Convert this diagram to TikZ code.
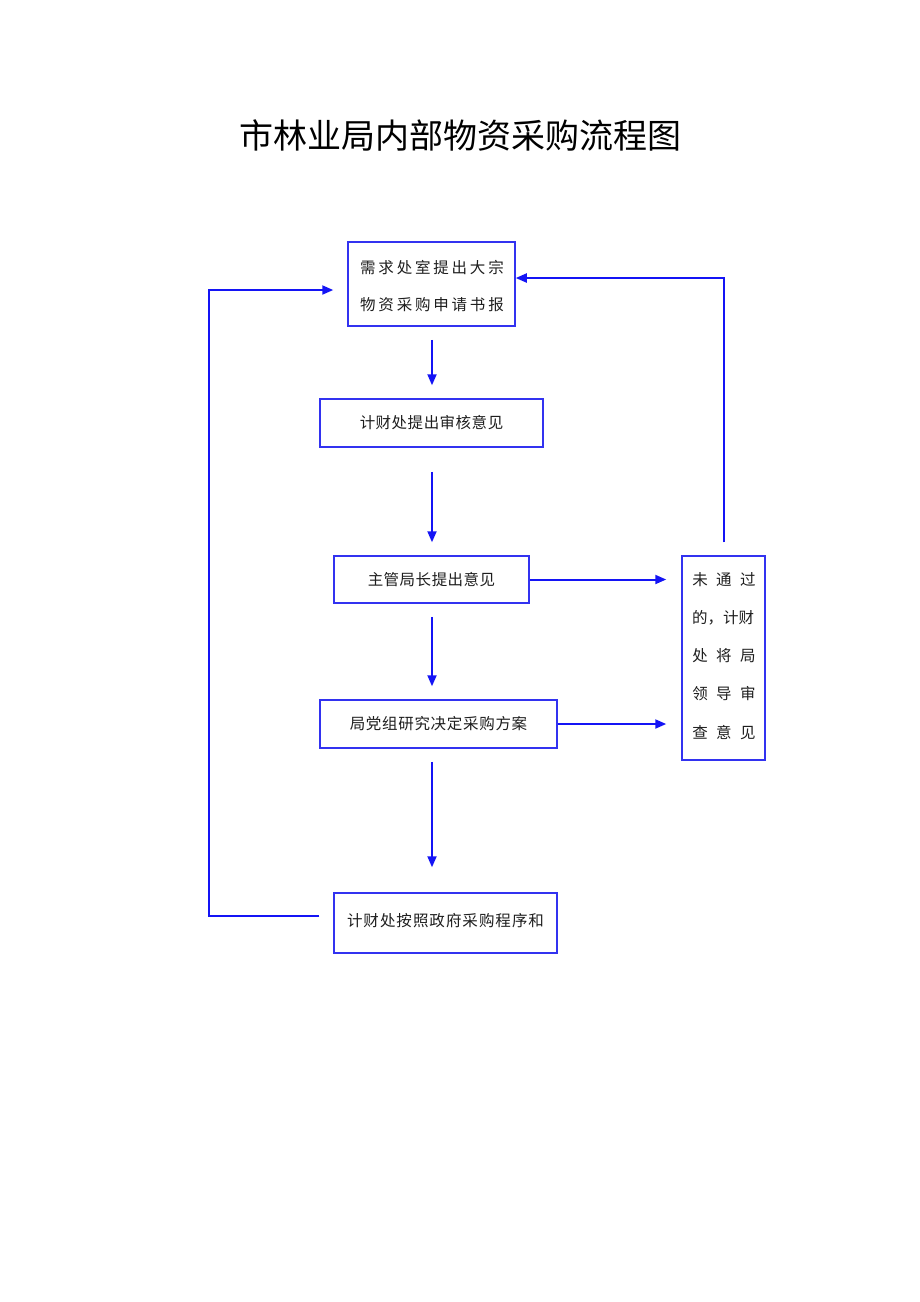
\documentclass[tikz,border=0pt]{standalone}
\usepackage{fontspec}
\setmainfont{Noto Sans CJK SC}
\newfontfamily\cjk{Noto Sans CJK SC}
\usetikzlibrary{arrows.meta}
\ExplSyntaxOn
\NewDocumentCommand\spc{mm}{\tl_map_inline:nn{#2}{\makebox[#1][c]{##1}}}
\ExplSyntaxOff
\definecolor{lineblue}{RGB}{20,20,245}
\definecolor{boxblue}{RGB}{50,50,240}
\definecolor{txt}{RGB}{30,30,30}
\begin{document}
\begin{tikzpicture}[x=1pt,y=-1pt,
  box/.style={draw=boxblue,line width=1.5pt,inner sep=0pt,text=txt,font=\cjk\fontsize{15.5}{18}\selectfont},
  lbl/.style={text=txt,font=\cjk\fontsize{15.5}{18}\selectfont,inner sep=0pt},
  conn/.style={draw=lineblue,line width=2pt,-{Triangle[length=11pt,width=9pt]}}]
\useasboundingbox[fill=white] (0,0) rectangle (920,1302);
\node[font=\cjk\fontsize{34}{38}\selectfont] (title) at (460,135) {市林业局内部物资采购流程图};
\node[box,minimum width=167pt,minimum height=84pt] (b1) at (431.5,284) {};
\node[lbl] (b1a) at (432,268) {\spc{18.3pt}{需求处室提出大宗}};
\node[lbl] (b1b) at (432,305) {\spc{18.3pt}{物资采购申请书报}};
\node[box,minimum width=223pt,minimum height=48pt] (b2) at (431.5,423) {\spc{16pt}{计财处提出审核意见}};
\node[box,minimum width=195pt,minimum height=47pt] (b3) at (431.5,579.5) {\spc{16pt}{主管局长提出意见}};
\node[box,minimum width=237pt,minimum height=48pt] (b4) at (438.5,724) {\spc{16.2pt}{局党组研究决定采购方案}};
\node[box,minimum width=223pt,minimum height=60pt] (b5) at (445.5,923) {\raisebox{6pt}{\spc{16.5pt}{计财处按照政府采购程序和}}};
\node[box,minimum width=83pt,minimum height=204pt] (side) at (723.5,658) {};
\node[lbl] (s1) at (724,580) {\spc{24pt}{未通过}};
\node[lbl] (s2) at (723,618) {的，计财};
\node[lbl] (s3) at (724,656) {\spc{24pt}{处将局}};
\node[lbl] (s4) at (724,694) {\spc{24pt}{领导审}};
\node[lbl] (s5) at (724,733) {\spc{24pt}{查意见}};
\coordinate (ax) at (432,0);
% vertical arrows
\draw[conn,shorten <=13pt,shorten >=13pt] (ax |- b1.south) -- (ax |- b2.north);
\draw[conn,shorten <=24pt,shorten >=13pt] (ax |- b2.south) -- (ax |- b3.north);
\draw[conn,shorten <=13pt,shorten >=13pt] (ax |- b3.south) -- (ax |- b4.north);
\draw[conn,shorten <=13pt,shorten >=25pt] (ax |- b4.south) -- (ax |- b5.north);
% horizontal arrows to side box
\draw[conn,shorten >=15pt] (b3.east) -- (side.west |- b3.east);
\draw[conn,shorten >=15pt] (b4.east) -- (side.west |- b4.east);
% right loop
\coordinate (ry) at (0,278);
\coordinate (rc) at (side.north |- ry);
\draw[conn,shorten <=13pt] (side.north) -- (rc) -- (b1.east |- rc);
% left loop
\coordinate (lb) at (209,916);
\coordinate (lt) at (209,290);
\draw[conn,shorten <=14pt,shorten >=14pt] (b5.west |- lb) -- (lb) -- (lt) -- (b1.west |- lt);
\end{tikzpicture}
\end{document}
